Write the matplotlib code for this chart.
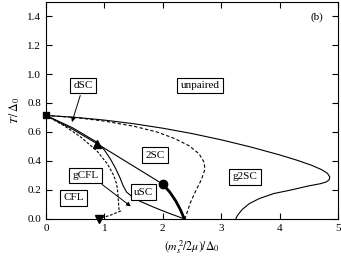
import numpy as np
import matplotlib
matplotlib.use("Agg")
import matplotlib.pyplot as plt

plt.rcParams['font.family'] = ['Liberation Serif', 'DejaVu Serif']
plt.rcParams['mathtext.fontset'] = 'stix'

# outer solid boundary (unpaired / g2SC)
outer_x = [0.0, 0.5, 1.0, 1.5, 2.0, 2.5, 3.0, 3.5, 4.0, 4.3, 4.55, 4.72, 4.82, 4.86, 4.85, 4.8, 4.7, 4.5,
           4.2, 3.9, 3.65, 3.48, 3.36, 3.28, 3.25]
outer_y = [0.714, 0.701, 0.682, 0.657, 0.626, 0.589, 0.546, 0.497, 0.442, 0.405, 0.37, 0.34, 0.315, 0.29,
           0.27, 0.255, 0.243, 0.228, 0.2, 0.175, 0.14, 0.105, 0.065, 0.025, 0.0]

# upper dashed boundary
dash1_x = [0.0, 0.5, 1.0, 1.5, 1.9, 2.2, 2.45, 2.62, 2.71, 2.72, 2.66, 2.56, 2.47, 2.38]
dash1_y = [0.714, 0.70, 0.675, 0.64, 0.60, 0.555, 0.505, 0.45, 0.39, 0.34, 0.27, 0.19, 0.11, 0.0]

# markers
sq_x, sq_y = 0.0, 0.714
tri_x, tri_y = 0.87, 0.52
circ_x, circ_y = 2.0, 0.24
dn_x, dn_y = 0.9, 0.0

# straight line square -> triangle -> circle
line2_x = [sq_x, 0.45, tri_x, circ_x]
line2_y = [sq_y, 0.62, tri_y, circ_y]

# thick segment circle -> T=0
thick_x = [2.0, 2.12, 2.22, 2.3, 2.37]
thick_y = [0.24, 0.185, 0.125, 0.065, 0.0]

# solid curve (gCFL / uSC)
uscl_x = [0.0, 0.45, 0.87, 1.0, 1.1, 1.19, 1.26, 1.32, 1.38, 1.47, 1.62, 1.85, 2.1, 2.37]
uscl_y = [0.714, 0.63, 0.53, 0.475, 0.415, 0.35, 0.29, 0.23, 0.185, 0.155, 0.12, 0.08, 0.04, 0.0]

# lower dashed curve (CFL / gCFL)
dash2_x = [0.0, 0.3, 0.58, 0.87, 1.05, 1.16, 1.21, 1.23, 1.24, 1.25, 1.28, 1.1, 0.93]
dash2_y = [0.714, 0.645, 0.57, 0.47, 0.38, 0.30, 0.24, 0.18, 0.12, 0.065, 0.055, 0.025, 0.005]

labels = ['dSC', 'unpaired', '2SC', 'gCFL', 'uSC', 'CFL', 'g2SC']
label_x = [0.64, 2.64, 1.87, 0.67, 1.67, 0.47, 3.41]
label_y = [0.92, 0.92, 0.44, 0.30, 0.185, 0.145, 0.29]

fig = plt.figure(figsize=(3.41, 2.6), dpi=100)
ax = fig.add_axes([0.135, 0.158, 0.856, 0.836])

ax.plot(outer_x, outer_y, 'k-', lw=0.8)
ax.plot(dash1_x, dash1_y, 'k--', lw=0.8, dashes=(3, 2))
ax.plot(line2_x, line2_y, 'k-', lw=0.8)
ax.plot(thick_x, thick_y, 'k-', lw=2.0)
ax.plot(uscl_x, uscl_y, 'k-', lw=0.8)
ax.plot(dash2_x, dash2_y, 'k--', lw=0.8, dashes=(2.5, 1.5))

ax.plot([sq_x], [sq_y], 'ks', ms=5, clip_on=False, zorder=5)
ax.plot([tri_x], [tri_y], 'k^', ms=6, zorder=5)
ax.plot([circ_x], [circ_y], 'ko', ms=6, zorder=5)
ax.plot([dn_x], [dn_y], 'kv', ms=6, clip_on=False, zorder=5)

box = dict(boxstyle='square,pad=0.3', fc='white', ec='black', lw=0.8)
for t, x, y in zip(labels, label_x, label_y):
    ax.text(x, y, t, ha='center', va='center', fontsize=8, bbox=box, zorder=6)

ax.text(4.64, 1.39, '(b)', ha='center', va='center', fontsize=8)

ax.annotate('', xy=(0.43, 0.65), xytext=(0.6, 0.87),
            arrowprops=dict(arrowstyle='-|>', color='k', lw=0.7, mutation_scale=6))
ax.annotate('', xy=(1.49, 0.075), xytext=(0.92, 0.25),
            arrowprops=dict(arrowstyle='-|>', color='k', lw=0.7, mutation_scale=6))

ax.set_xlim(0, 5)
ax.set_ylim(0, 1.5)
ax.set_xticks([0, 1, 2, 3, 4, 5])
ax.set_yticks(np.arange(0, 1.41, 0.2))
ax.set_yticklabels(['0.0', '0.2', '0.4', '0.6', '0.8', '1.0', '1.2', '1.4'])
ax.tick_params(direction='in', top=True, right=True, labelsize=8, length=4, width=0.8)
for s in ax.spines.values():
    s.set_linewidth(0.8)

ax.set_xlabel(r'$(m_s^{\,2}/2\mu)/\Delta_0$', fontsize=8.5)
ax.set_ylabel(r'$T\,/\,\Delta_0$', fontsize=8.5)

fig.savefig('out.png', dpi=100)
